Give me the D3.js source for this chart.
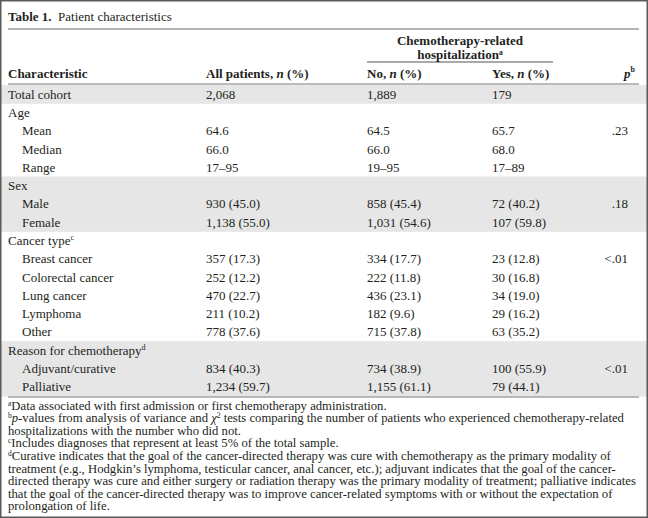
<!DOCTYPE html>
<html>
<head>
<meta charset="utf-8">
<script src="https://cdn.jsdelivr.net/npm/d3@7/dist/d3.min.js"></script>
<style>
  html, body { margin: 0; padding: 0; background: #fff; }
  svg { display: block; }
  text { font-family: "Liberation Serif", "Times New Roman", serif; fill: #231f20; }
</style>
</head>
<body>
<svg id="chart" width="648" height="518"></svg>
<script>
// ---------- data ----------
const titleBold = "Table 1.";
const titleText = "Patient characteristics";
const spannerLines = ["Chemotherapy-related", "hospitalization"];
const spannerNote = "a";
const columnHeads = ["Characteristic", "All patients, ", "No, ", "Yes, "];
const pHead = "p";
const pHeadNote = "b";

const rowLabels = ["Total cohort", "Age", "Mean", "Median", "Range", "Sex", "Male", "Female",
  "Cancer type", "Breast cancer", "Colorectal cancer", "Lung cancer", "Lymphoma", "Other",
  "Reason for chemotherapy", "Adjuvant/curative", "Palliative"];
const rowNotes = ["", "", "", "", "", "", "", "", "c", "", "", "", "", "", "d", "", ""];
const rowIndent = [0, 0, 1, 1, 1, 0, 1, 1, 0, 1, 1, 1, 1, 1, 0, 1, 1];
const rowShaded = [1, 0, 0, 0, 0, 1, 1, 1, 0, 0, 0, 0, 0, 0, 1, 1, 1];

const allPatients = ["2,068", "", "64.6", "66.0", "17–95", "", "930 (45.0)", "1,138 (55.0)",
  "", "357 (17.3)", "252 (12.2)", "470 (22.7)", "211 (10.2)", "778 (37.6)",
  "", "834 (40.3)", "1,234 (59.7)"];
const noHosp = ["1,889", "", "64.5", "66.0", "19–95", "", "858 (45.4)", "1,031 (54.6)",
  "", "334 (17.7)", "222 (11.8)", "436 (23.1)", "182 (9.6)", "715 (37.8)",
  "", "734 (38.9)", "1,155 (61.1)"];
const yesHosp = ["179", "", "65.7", "68.0", "17–89", "", "72 (40.2)", "107 (59.8)",
  "", "23 (12.8)", "30 (16.8)", "34 (19.0)", "29 (16.2)", "63 (35.2)",
  "", "100 (55.9)", "79 (44.1)"];
const pValues = ["", "", ".23", "", "", "", ".18", "", "", "<.01", "", "", "", "", "", "<.01", ""];

// footnotes: segments [text, style] where style: n normal, s superscript, i italic
const footnotes = [
  [["a", "s"], ["Data associated with first admission or first chemotherapy administration.", "n"]],
  [["b", "s"], ["p", "i"], ["-values from analysis of variance and ", "n"], ["χ", "i"], ["2", "s"],
   [" tests comparing the number of patients who experienced chemotherapy-related", "n"]],
  [["hospitalizations with the number who did not.", "n"]],
  [["c", "s"], ["Includes diagnoses that represent at least 5% of the total sample.", "n"]],
  [["d", "s"], ["Curative indicates that the goal of the cancer-directed therapy was cure with chemotherapy as the primary modality of", "n"]],
  [["treatment (e.g., Hodgkin’s lymphoma, testicular cancer, anal cancer, etc.); adjuvant indicates that the goal of the cancer-", "n"]],
  [["directed therapy was cure and either surgery or radiation therapy was the primary modality of treatment; palliative indicates", "n"]],
  [["that the goal of the cancer-directed therapy was to improve cancer-related symptoms with or without the expectation of", "n"]],
  [["prolongation of life.", "n"]]
];

// ---------- layout ----------
const W = 648, H = 518;
const svg = d3.select("#chart");
const left = 8, right = 639;
const fs = 13, fnFs = 12.7;

const y = d3.scaleBand().domain(d3.range(rowLabels.length)).range([85, 396]).paddingInner(0);
const colKeys = ["label", "all", "no", "yes"];
const x = d3.scaleOrdinal().domain(colKeys).range([left, 206, 367, 492]);
const pRight = 628;
const fnY = d3.scaleLinear().domain([0, 1]).range([409.5, 422.1]);

// shading bands
svg.append("g").selectAll("rect")
  .data(d3.range(rowLabels.length).filter(i => rowShaded[i]))
  .join("rect")
  .attr("x", 0).attr("width", W)
  .attr("y", i => y(i)).attr("height", y.bandwidth() + 0.5)
  .attr("fill", "#e6e6e6");

// rules
const rule = (x1, x2, yy, w, c) => svg.append("line")
  .attr("x1", x1).attr("x2", x2).attr("y1", yy).attr("y2", yy)
  .attr("stroke", c).attr("stroke-width", w);
rule(left, right, 29, 1.6, "#9a9a9a");
rule(x("no"), 553, 62, 1.2, "#555");
rule(left, right, 84, 1.2, "#777");
rule(left, right, 397, 1.2, "#777");

// title
const t = svg.append("text").attr("x", left).attr("y", 21).attr("font-size", 13);
t.append("tspan").attr("font-weight", "bold").text(titleBold);
t.append("tspan").text("\u2002" + titleText);

// spanner
const spanCx = (x("no") + 553) / 2;
svg.append("text").attr("x", spanCx).attr("y", 45).attr("text-anchor", "middle")
  .attr("font-size", fs).attr("font-weight", "bold").text(spannerLines[0]);
const sp2 = svg.append("text").attr("x", spanCx).attr("y", 59).attr("text-anchor", "middle")
  .attr("font-size", fs).attr("font-weight", "bold");
sp2.append("tspan").text(spannerLines[1]);
sp2.append("tspan").attr("font-size", 7.5).attr("dy", -4.5).text(spannerNote);

// column heads
const headY = 78;
svg.append("text").attr("x", x("label")).attr("y", headY).attr("font-size", fs)
  .attr("font-weight", "bold").text(columnHeads[0]);
["all", "no", "yes"].forEach((k, i) => {
  const h = svg.append("text").attr("x", x(k)).attr("y", headY).attr("font-size", fs).attr("font-weight", "bold");
  h.append("tspan").text(columnHeads[i + 1]);
  h.append("tspan").attr("font-style", "italic").text("n");
  h.append("tspan").text(" (%)");
});
const ph = svg.append("text").attr("x", pRight + 7).attr("y", headY).attr("text-anchor", "end")
  .attr("font-size", fs).attr("font-weight", "bold");
ph.append("tspan").attr("font-style", "italic").text(pHead);
ph.append("tspan").attr("font-size", 8).attr("dy", -6).text(pHeadNote);

// body rows
const base = i => y(i) + y.bandwidth() / 2 + 4.5;
const rows = svg.append("g").selectAll("g").data(d3.range(rowLabels.length)).join("g");
rows.append("text").attr("x", i => x("label") + rowIndent[i] * 14).attr("y", base)
  .attr("font-size", fs)
  .each(function (i) {
    const s = d3.select(this);
    s.append("tspan").text(rowLabels[i]);
    if (rowNotes[i]) s.append("tspan").attr("font-size", 8).attr("dy", -5).text(rowNotes[i]);
  });
[["all", allPatients], ["no", noHosp], ["yes", yesHosp]].forEach(([k, arr]) => {
  rows.append("text").attr("x", x(k)).attr("y", base).attr("font-size", fs).text(i => arr[i]);
});
rows.append("text").attr("x", pRight).attr("y", base).attr("text-anchor", "end")
  .attr("font-size", fs).text(i => pValues[i]);

// footnotes
svg.append("g").selectAll("text").data(footnotes).join("text")
  .attr("x", left).attr("y", (d, i) => fnY(i)).attr("font-size", fnFs)
  .each(function (segs) {
    const s = d3.select(this);
    let raised = false;
    segs.forEach(([txt, st]) => {
      const ts = s.append("tspan").text(txt);
      if (st === "s") { ts.attr("font-size", 7.5).attr("dy", raised ? 0 : -4); raised = true; }
      else {
        if (raised) { ts.attr("dy", 4); raised = false; }
        if (st === "i") ts.attr("font-style", "italic");
      }
    });
  });

// outer frame
svg.append("rect").attr("x", 0.75).attr("y", 0.75).attr("width", W - 1.5).attr("height", H - 1.5)
  .attr("fill", "none").attr("stroke", "#5a5a5a").attr("stroke-width", 1.5);
</script>
</body>
</html>
